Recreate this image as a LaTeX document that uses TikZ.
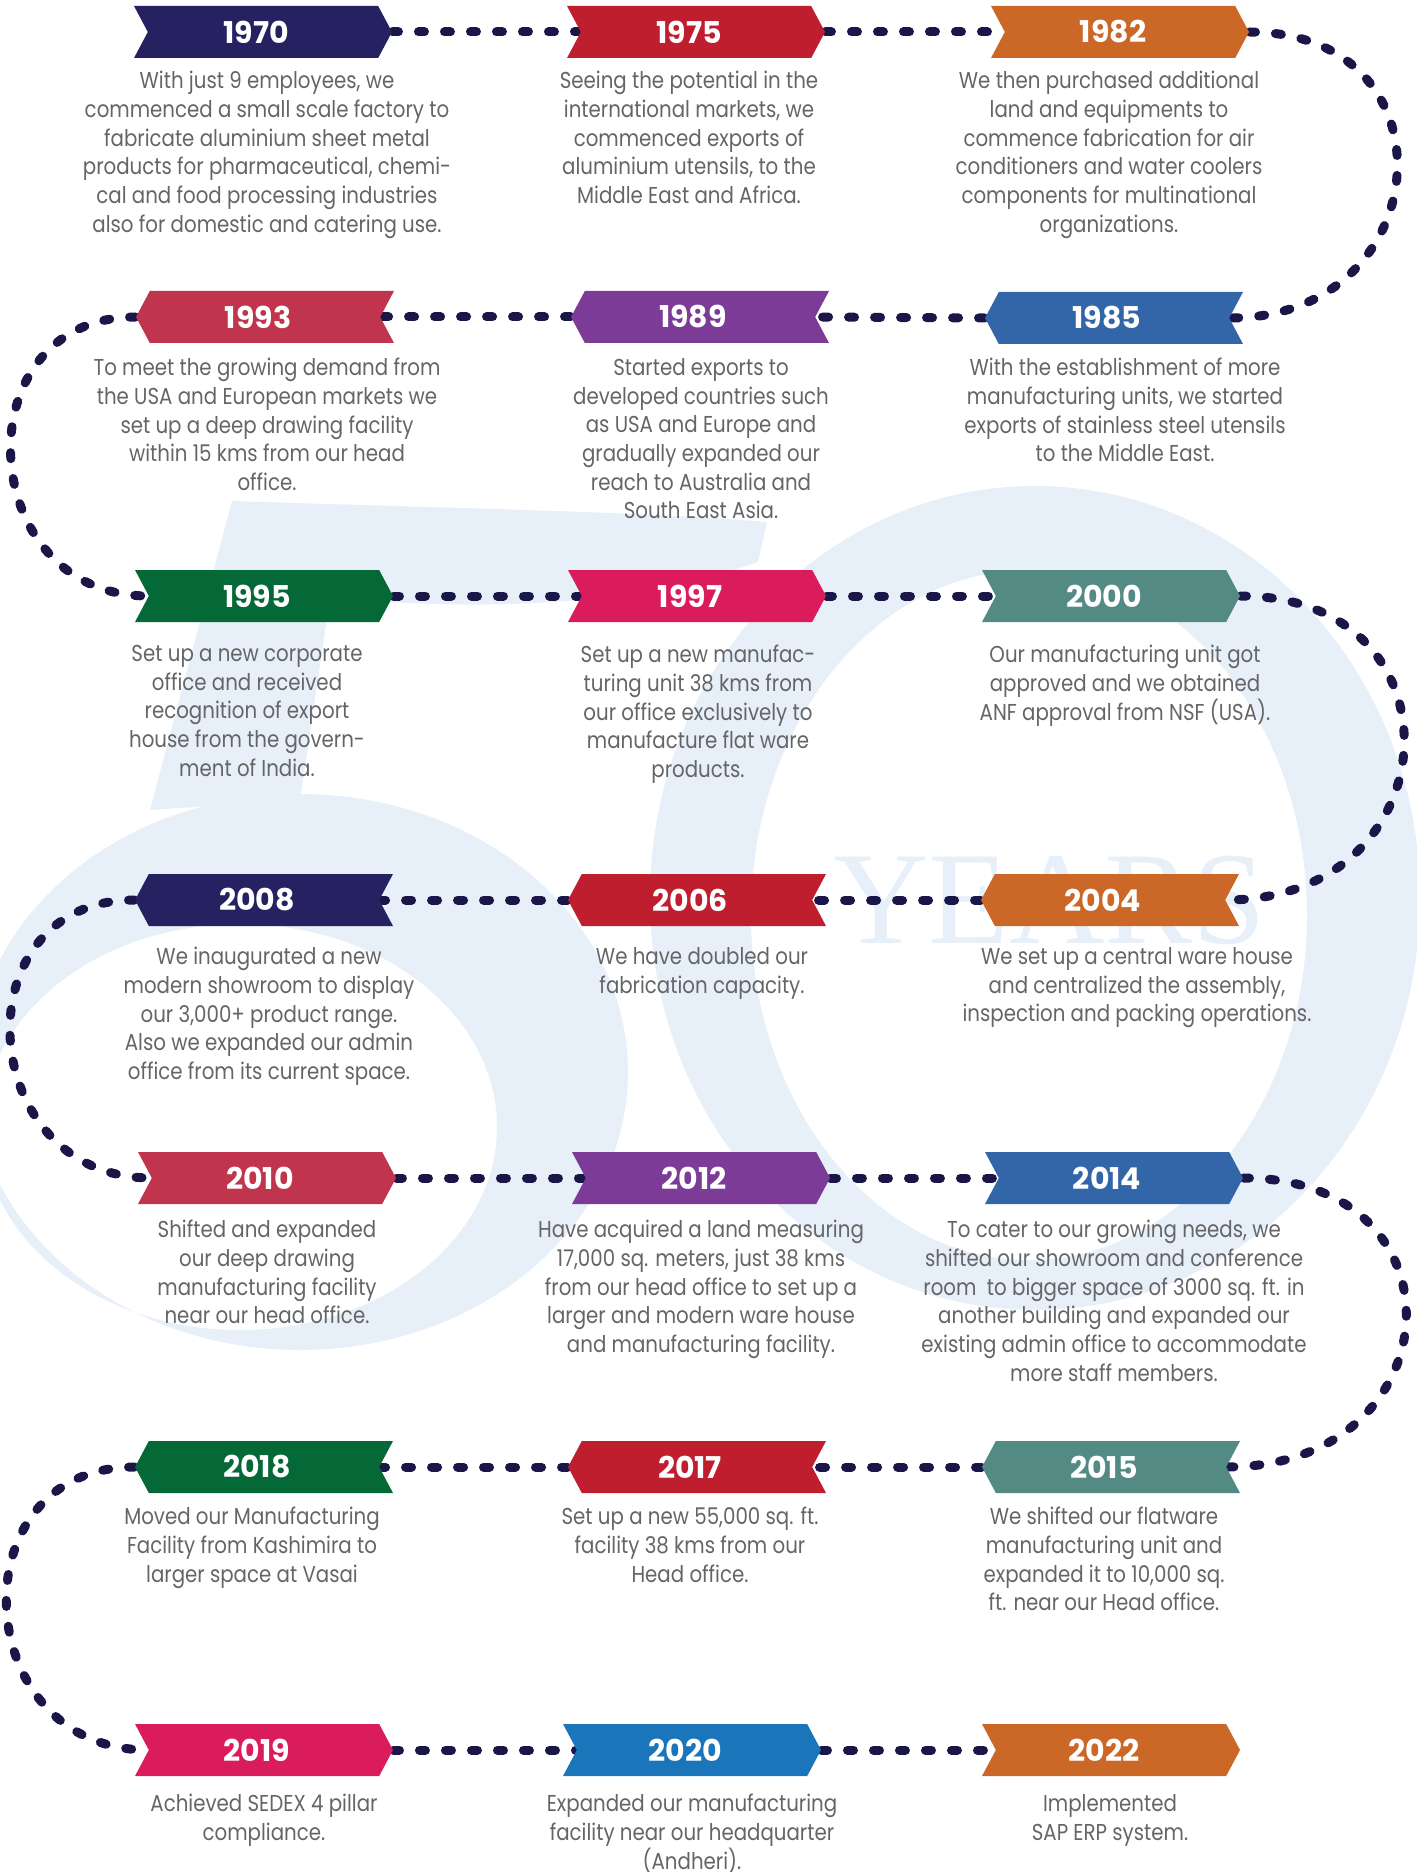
\documentclass[tikz,border=0pt]{standalone}
\usepackage{fontspec}
\setmainfont{Poppins}
\newfontfamily\bodyfont{Poppins}[FakeStretch=0.86]
\newfontfamily\yearsfont{Liberation Serif}
\usetikzlibrary{positioning,shapes.symbols}

\definecolor{navy}{HTML}{262262}
\definecolor{crimson}{HTML}{BE1E2D}
\definecolor{rust}{HTML}{CB6828}
\definecolor{rose}{HTML}{C1344D}
\definecolor{plum}{HTML}{7B3B96}
\definecolor{steel}{HTML}{3366A8}
\definecolor{forest}{HTML}{056837}
\definecolor{cerise}{HTML}{DA1C5C}
\definecolor{sage}{HTML}{538A83}
\definecolor{azure}{HTML}{1B75BB}
\definecolor{dotcol}{HTML}{1A1648}
\definecolor{bodygray}{HTML}{646567}
\definecolor{wmblue}{HTML}{E7EFF8}

\pgfdeclarelayer{wm}
\pgfdeclarelayer{bg}
\pgfsetlayers{wm,bg,main}

\tikzset{
  yearbox/.style={signal, signal pointer angle=124, fill=#1, text=white,
    minimum width=129pt, minimum height=26pt, inner sep=0pt,
    font=\fontsize{15}{15}\selectfont\bfseries,
    execute at end node=\hspace*{7pt}},
  fwd/.style={yearbox=#1, signal from=west, signal to=east},
  bwd/.style={yearbox=#1, signal from=east, signal to=west},
  blurb/.style={anchor=north, align=center, text=bodygray, inner sep=0pt,
    font=\bodyfont\fontsize{11.5}{14.33}\selectfont},
  dotline/.style={draw=dotcol, line width=4.5pt, line cap=round,
    dash pattern=on 3pt off 10pt},
}

\begin{document}
\begin{tikzpicture}[x=0.5pt, y=-0.5pt]
  \useasboundingbox (0,0) rectangle (1417,1872);

  % watermark: 50 YEARS
  \begin{pgfonlayer}{wm}
    \fill[wmblue, even odd rule] (1035,898) ellipse [x radius=385, y radius=412]
      (1029,915) ellipse [x radius=278, y radius=345];
    \fill[wmblue, even odd rule] (300,1072) ellipse [x radius=328, y radius=278]
      (240,1127) ellipse [x radius=257, y radius=203];
    \fill[wmblue] (232,501) .. controls (450,508) and (650,512) .. (767,522)
      -- (758,562) .. controls (650,600) and (520,614) .. (330,598)
      -- (300,800) -- (150,810) -- cycle;
    \node (years) [anchor=base, text=wmblue, inner sep=0pt,
      font=\yearsfont\fontsize{66}{66}\selectfont] at (1050,943) {YEARS};
  \end{pgfonlayer}

  % row 1
  \node (y1970) [fwd=navy] at (263,32) {1970};
  \node (y1975) [fwd=crimson] at (696,32) {1975};
  \node (y1982) [fwd=rust] at (1120,32) {1982};
  % row 2
  \node (y1993) [bwd=rose] at (265,317) {1993};
  \node (y1989) [bwd=plum] at (700,317) {1989};
  \node (y1985) [bwd=steel] at (1114,318) {1985};
  % row 3
  \node (y1995) [fwd=forest] at (264,596) {1995};
  \node (y1997) [fwd=cerise] at (697,596) {1997};
  \node (y2000) [fwd=sage] at (1111,596) {2000};
  % row 4
  \node (y2008) [bwd=navy] at (264,900) {2008};
  \node (y2006) [bwd=crimson] at (697,900) {2006};
  \node (y2004) [bwd=rust] at (1110,900) {2004};
  % row 5
  \node (y2010) [fwd=rose] at (267,1178) {2010};
  \node (y2012) [fwd=plum] at (701,1178) {2012};
  \node (y2014) [fwd=steel] at (1114,1178) {2014};
  % row 6
  \node (y2018) [bwd=forest] at (264,1467) {2018};
  \node (y2017) [bwd=crimson] at (697,1467) {2017};
  \node (y2015) [bwd=sage] at (1111,1467) {2015};
  % row 7
  \node (y2019) [fwd=cerise] at (264,1750) {2019};
  \node (y2020) [fwd=azure] at (692,1750) {2020};
  \node (y2022) [fwd=rust] at (1111,1750) {2022};

  % texts
  \node (t1970) [blurb] at (267,71) {With just 9 employees, we\\commenced a small scale factory to\\fabricate aluminium sheet metal\\products for pharmaceutical, chemi-\\cal and food processing industries\\also for domestic and catering use.};
  \node (t1975) [blurb] at (689,71) {Seeing the potential in the\\international markets, we\\commenced exports of\\aluminium utensils, to the\\Middle East and Africa.};
  \node (t1982) [blurb] at (1109,71) {We then purchased additional\\land and equipments to\\commence fabrication for air\\conditioners and water coolers\\components for multinational\\organizations.};
  \node (t1993) [blurb] at (267,358) {To meet the growing demand from\\the USA and European markets we\\set up a deep drawing facility\\within 15 kms from our head\\office.};
  \node (t1989) [blurb] at (701,358) {Started exports to\\developed countries such\\as USA and Europe and\\gradually expanded our\\reach to Australia and\\South East Asia.};
  \node (t1985) [blurb] at (1125,358) {With the establishment of more\\manufacturing units, we started\\exports of stainless steel utensils\\to the Middle East.};
  \node (t1995) [blurb] at (247,645) {Set up a new corporate\\office and received\\recognition of export\\house from the govern-\\ment of India.};
  \node (t1997) [blurb] at (698,645) {Set up a new manufac-\\turing unit 38 kms from\\our office exclusively to\\manufacture flat ware\\products.};
  \node (t2000) [blurb] at (1125,645) {Our manufacturing unit got\\approved and we obtained\\ANF approval from NSF (USA).};
  \node (t2008) [blurb] at (269,947) {We inaugurated a new\\modern showroom to display\\our 3,000+ product range.\\Also we expanded our admin\\office from its current space.};
  \node (t2006) [blurb] at (702,947) {We have doubled our\\fabrication capacity.};
  \node (t2004) [blurb] at (1137,947) {We set up a central ware house\\and centralized the assembly,\\inspection and packing operations.};
  \node (t2010) [blurb] at (267,1220) {Shifted and expanded\\our deep drawing\\manufacturing facility\\near our head office.};
  \node (t2012) [blurb] at (701,1220) {Have acquired a land measuring\\17,000 sq. meters, just 38 kms\\from our head office to set up a\\larger and modern ware house\\and manufacturing facility.};
  \node (t2014) [blurb] at (1114,1220) {To cater to our growing needs, we\\shifted our showroom and conference\\room~ to bigger space of 3000 sq. ft. in\\another building and expanded our\\existing admin office to accommodate\\more staff members.};
  \node (t2018) [blurb] at (252,1507) {Moved our Manufacturing\\Facility from Kashimira to\\larger space at Vasai};
  \node (t2017) [blurb] at (690,1507) {Set up a new 55,000 sq. ft.\\facility 38 kms from our\\Head office.};
  \node (t2015) [blurb] at (1104,1507) {We shifted our flatware\\manufacturing unit and\\expanded it to 10,000 sq.\\ft. near our Head office.};
  \node (t2019) [blurb] at (264,1794) {Achieved SEDEX 4 pillar\\compliance.};
  \node (t2020) [blurb] at (692,1794) {Expanded our manufacturing\\facility near our headquarter\\(Andheri).};
  \node (t2022) [blurb] at (1110,1794) {Implemented\\SAP ERP system.};

  % dotted path
  \begin{pgfonlayer}{bg}
    \draw[dotline] (y1970.east) -- (y1975.west);
    \draw[dotline] (y1975.east) -- (y1982.west);
    \draw[dotline] (y1982.east) .. controls +(210,0) and +(210,0) .. (y1985.east);
    \draw[dotline] (y1985.west) -- (y1989.east);
    \draw[dotline] (y1989.west) -- (y1993.east);
    \draw[dotline] (y1993.west) .. controls +(-175,0) and +(-175,0) .. (y1995.west);
    \draw[dotline] (y1995.east) -- (y1997.west);
    \draw[dotline] (y1997.east) -- (y2000.west);
    \draw[dotline] (y2000.east) .. controls +(228,0) and +(228,0) .. (y2004.east);
    \draw[dotline] (y2004.west) -- (y2006.east);
    \draw[dotline] (y2006.west) -- (y2008.east);
    \draw[dotline] (y2008.west) .. controls +(-177,0) and +(-177,0) .. (y2010.west);
    \draw[dotline] (y2010.east) -- (y2012.west);
    \draw[dotline] (y2012.east) -- (y2014.west);
    \draw[dotline] (y2014.east) .. controls +(228,0) and +(228,0) .. (y2015.east);
    \draw[dotline] (y2015.west) -- (y2017.east);
    \draw[dotline] (y2017.west) -- (y2018.east);
    \draw[dotline] (y2018.west) .. controls +(-180,0) and +(-180,0) .. (y2019.west);
    \draw[dotline] (y2019.east) -- (y2020.west);
    \draw[dotline] (y2020.east) -- (y2022.west);
  \end{pgfonlayer}
\end{tikzpicture}
\end{document}
